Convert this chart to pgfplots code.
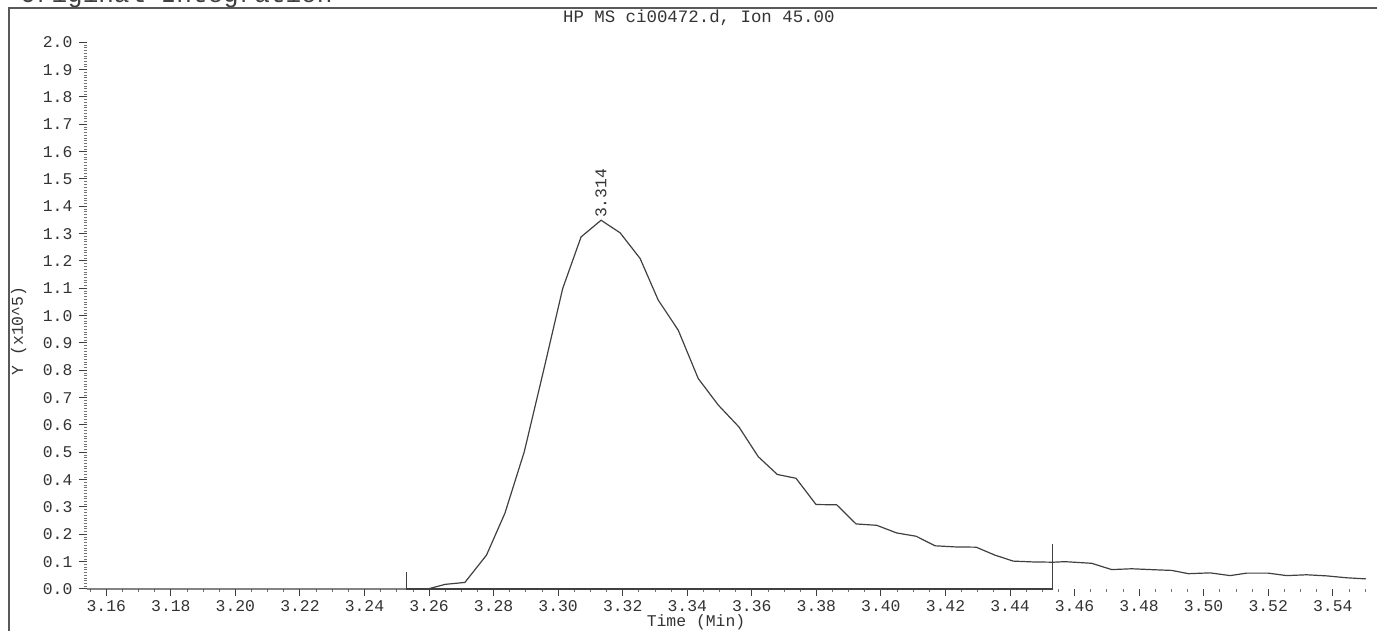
\documentclass[border=0pt]{standalone}
\usepackage{fontspec}
\setmainfont{Liberation Mono}
\usepackage{pgfplots}
\pgfplotsset{compat=1.18}
\begin{document}
\begin{tikzpicture}
\begin{axis}[scale only axis,
 width=640pt,height=273.35pt,
 xmin=3.15402,xmax=3.55061,ymin=0,ymax=2,clip=false,
 separate axis lines,axis line style={draw=none},tick pos=left,
 tick align=outside,major tick length=3.75pt,minor tick length=1.6pt,
 major tick style={black!75,line width=0.5pt},
 minor tick style={black!55,line width=0.4pt},
 xtick={3.16,3.18,3.20,3.22,3.24,3.26,3.28,3.30,3.32,3.34,3.36,3.38,3.40,3.42,3.44,3.46,3.48,3.50,3.52,3.54},
 minor xtick={3.155,3.165,3.17,3.175,3.185,3.19,3.195,3.205,3.21,3.215,3.225,3.23,3.235,3.245,3.25,3.255,
  3.265,3.27,3.275,3.285,3.29,3.295,3.305,3.31,3.315,3.325,3.33,3.335,3.345,3.35,3.355,3.365,3.37,3.375,
  3.385,3.39,3.395,3.405,3.41,3.415,3.425,3.43,3.435,3.445,3.45,3.455,3.465,3.47,3.475,3.485,3.49,3.495,
  3.505,3.51,3.515,3.525,3.53,3.535,3.545,3.55},
 ytick={0,0.1,0.2,0.3,0.4,0.5,0.6,0.7,0.8,0.9,1.0,1.1,1.2,1.3,1.4,1.5,1.6,1.7,1.8,1.9,2.0},
 minor y tick num=9,
 xticklabel={\pgfmathprintnumber[fixed,fixed zerofill,precision=2,assume math mode=true]{\tick}},
 yticklabel={\pgfmathprintnumber[fixed,fixed zerofill,precision=1,assume math mode=true]{\tick}},
 tick label style={font=\fontsize{8.2}{8.2}\selectfont,text=black!80},
 xticklabel style={yshift=1.5pt},
 xlabel={Time (Min)},ylabel={Y (x10\^{}5)},
 label style={font=\fontsize{8.2}{8.2}\selectfont,text=black!80},
 xlabel style={at={(rel axis cs:0.4758,-0.0604)},anchor=center},
 ylabel style={at={(rel axis cs:-0.0535,0.472)},anchor=center},
 title={HP MS ci00472.d, Ion 45.00},
 every axis title shift=0pt,
 title style={at={(rel axis cs:0.478,1.0444)},anchor=center,
  font=\fontsize{8.7}{8.7}\selectfont,text=black!80},
]
\coordinate (o) at (rel axis cs:0,0);
% integration baseline and start/end markers
\addplot[black!75,line width=0.6pt] coordinates {(3.2529,0.064) (3.2529,0) (3.4532,0) (3.4532,0.163)};
% ion 45 trace
\addplot[black!75,line width=0.6pt] coordinates {
(3.1540,0) (3.2596,0) (3.2650,0.017) (3.2711,0.024) (3.2778,0.124) (3.2835,0.277)
(3.2895,0.502) (3.2955,0.800) (3.3014,1.099) (3.3071,1.288) (3.3133,1.349) (3.3192,1.303)
(3.3254,1.209) (3.3310,1.057) (3.3372,0.947) (3.3434,0.770) (3.3496,0.673) (3.3560,0.593)
(3.3620,0.484) (3.3679,0.419) (3.3737,0.405) (3.3799,0.309) (3.3863,0.308) (3.3923,0.238)
(3.3987,0.233) (3.4049,0.205) (3.4109,0.193) (3.4168,0.158) (3.4230,0.154) (3.4295,0.153)
(3.4353,0.124) (3.4410,0.102) (3.4472,0.099) (3.4534,0.098) (3.4570,0.100) (3.4653,0.094)
(3.4715,0.071) (3.4777,0.074) (3.4855,0.070) (3.4901,0.068) (3.4953,0.056) (3.5020,0.059)
(3.5082,0.049) (3.5133,0.058) (3.5200,0.058) (3.5257,0.049) (3.5319,0.052) (3.5381,0.048)
(3.5443,0.041) (3.5503,0.037)};
\node[rotate=90,anchor=west,inner sep=1pt,text=black!80,font=\fontsize{8.2}{8.2}\selectfont]
 at (axis cs:3.3133,1.349) {3.314};
\end{axis}
% page frame and clipped header, placed from the axis corner
\draw[black!65,line width=0.6pt] ([shift={(-39pt,-21pt)}]o) -- ([shift={(-39pt,290.5pt)}]o) -- ([shift={(645pt,290.5pt)}]o);
\node[anchor=base west,inner sep=0,text=black!75,font=\fontsize{13}{13}\selectfont] at ([shift={(-33.5pt,293pt)}]o) {Original Integration};
\pgfresetboundingbox
\useasboundingbox ([shift={(-43.5pt,-21pt)}]o) rectangle ([shift={(645pt,294.5pt)}]o);
\end{tikzpicture}
\end{document}
